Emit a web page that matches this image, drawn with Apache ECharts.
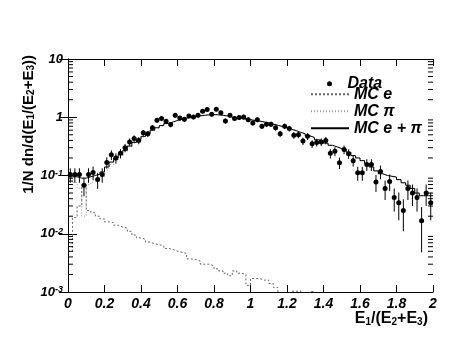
<!DOCTYPE html>
<html>
<head>
<meta charset="utf-8">
<script src="https://cdn.jsdelivr.net/npm/echarts@6/dist/echarts.min.js"></script>
<style>
  html, body { margin: 0; padding: 0; background: #fff; }
  #chart { width: 471px; height: 364px; }
</style>
</head>
<body>
<div id="chart"></div>
<script>
// histogram binning: 80 bins of 0.025 between 0 and 2
const nBins = 80;
const xLow = 0;
const xHigh = 2;

// data points (1/N dn/dx) and their errors, one per bin
const dataVals = [
  0.104, 0.104, 0.104, 0.068, 0.104, 0.113, 0.085, 0.104, 0.168, 0.227,
  0.20, 0.24, 0.30, 0.376, 0.43, 0.40, 0.54, 0.52, 0.66, 0.89,
  0.95, 0.85, 0.75, 1.08, 0.97, 0.92, 1.05, 1.01, 1.08, 1.27,
  1.36, 1.13, 1.37, 1.20, 0.86, 1.08, 0.95, 0.99, 1.01, 0.91,
  0.80, 0.91, 0.70, 0.76, 0.76, 0.66, 0.52, 0.70, 0.64, 0.49,
  0.50, 0.39, 0.47, 0.35, 0.37, 0.376, 0.40, 0.24, 0.26, 0.166,
  0.28, 0.237, 0.18, 0.111, 0.111, 0.155, 0.155, 0.077, 0.117, 0.060,
  0.079, 0.042, 0.034, 0.025, 0.060, 0.050, 0.042, 0.0168, 0.050, 0.034
];
const dataErr = [
  0.029, 0.029, 0.029, 0.024, 0.029, 0.030, 0.026, 0.029, 0.037, 0.043,
  0.040, 0.044, 0.049, 0.055, 0.059, 0.057, 0.066, 0.065, 0.073, 0.085,
  0.088, 0.083, 0.078, 0.094, 0.089, 0.086, 0.092, 0.090, 0.094, 0.100,
  0.105, 0.096, 0.105, 0.099, 0.083, 0.094, 0.088, 0.090, 0.090, 0.086,
  0.080, 0.086, 0.075, 0.078, 0.078, 0.073, 0.065, 0.075, 0.072, 0.063,
  0.064, 0.056, 0.062, 0.053, 0.055, 0.055, 0.057, 0.044, 0.046, 0.037,
  0.048, 0.044, 0.038, 0.030, 0.030, 0.035, 0.035, 0.025, 0.031, 0.022,
  0.025, 0.018, 0.017, 0.014, 0.022, 0.020, 0.018, 0.012, 0.020, 0.017
];

// MC electrons (below 1e-3 means off the frame)
const mcE = [
  0.005, 0.019, 0.030, 0.070, 0.025, 0.023, 0.020, 0.018, 0.016, 0.0155,
  0.014, 0.013, 0.0125, 0.011, 0.0095, 0.0085, 0.0080, 0.0072, 0.0067, 0.0065,
  0.0062, 0.0056, 0.0054, 0.0050, 0.0048, 0.0046, 0.0037, 0.0036, 0.0034, 0.0030,
  0.0030, 0.0028, 0.0025, 0.0023, 0.0021, 0.0019, 0.0023, 0.0021, 0.0020, 0.0013,
  0.0017, 0.0017, 0.0016, 0.0016, 0.0014, 0.0012, 0.0009, 0.0008, 0.0008, 0.00103,
  0.00104, 0.0009, 0.0008, 0.00102, 0.0005, 0.0005, 0.0005, 0.0005, 0.0005, 0.0005,
  0.0005, 0.0005, 0.0005, 0.0005, 0.0005, 0.0005, 0.0005, 0.0005, 0.0005, 0.0005,
  0.0005, 0.0005, 0.0005, 0.0005, 0.0005, 0.0005, 0.0005, 0.0005, 0.0005, 0.0005
];

// MC pions
const mcPi = [
  0.090, 0.076, 0.060, 0.020, 0.070, 0.077, 0.085, 0.097, 0.124, 0.155,
  0.186, 0.217, 0.258, 0.309, 0.36, 0.41, 0.46, 0.52, 0.59, 0.65,
  0.71, 0.77, 0.82, 0.87, 0.91, 0.95, 1.0, 1.03, 1.06, 1.08,
  1.10, 1.11, 1.10, 1.08, 1.05, 1.01, 0.97, 0.95, 0.93, 0.91,
  0.88, 0.86, 0.83, 0.80, 0.76, 0.73, 0.69, 0.66, 0.62, 0.59,
  0.55, 0.52, 0.48, 0.45, 0.41, 0.39, 0.36, 0.33, 0.31, 0.29,
  0.28, 0.25, 0.22, 0.20, 0.18, 0.16, 0.14, 0.12, 0.107, 0.100,
  0.097, 0.094, 0.085, 0.075, 0.068, 0.060, 0.050, 0.045, 0.045, 0.045
];

// MC e + pi
const mcSum = [
  0.095, 0.095, 0.090, 0.090, 0.095, 0.100, 0.105, 0.115, 0.140, 0.170,
  0.200, 0.230, 0.270, 0.320, 0.37, 0.42, 0.47, 0.53, 0.60, 0.66,
  0.72, 0.78, 0.83, 0.88, 0.92, 0.96, 1.0, 1.03, 1.06, 1.08,
  1.10, 1.11, 1.10, 1.08, 1.05, 1.01, 0.97, 0.95, 0.93, 0.91,
  0.88, 0.86, 0.83, 0.80, 0.76, 0.73, 0.69, 0.66, 0.62, 0.59,
  0.55, 0.52, 0.48, 0.45, 0.41, 0.39, 0.36, 0.33, 0.31, 0.29,
  0.28, 0.25, 0.22, 0.20, 0.18, 0.16, 0.14, 0.12, 0.107, 0.100,
  0.097, 0.094, 0.085, 0.075, 0.068, 0.060, 0.050, 0.045, 0.045, 0.045
];

// y axis decade labels: 10^exp
const yTickExp = [-3, -2, -1, 0, 1];
const yTickBase = ['10', '10', '10', '1', '10'];
const yTickSup = ['-3', '-2', '-1', '', ''];
const minorMant = [2, 3, 4, 5, 6, 7, 8, 9];

const FONT = 'Liberation Sans, Arial, sans-serif';
const binW = (xHigh - xLow) / nBins;
const centers = dataVals.map((v, i) => xLow + (i + 0.5) * binW);

// histogram outline: left edges + closing point at xHigh, drawn with step 'end'
function stepPoints(vals) {
  const pts = vals.map((v, i) => [xLow + i * binW, v]);
  pts.push([xHigh, vals[vals.length - 1]]);
  return pts;
}

const minorVals = [];
yTickExp.slice(0, -1).forEach(e => minorMant.forEach(m => minorVals.push([0, m * Math.pow(10, e)])));

const chart = echarts.init(document.getElementById('chart'), null, { renderer: 'canvas' });

const labelRich = {
  b: { fontFamily: FONT, fontSize: 13, fontWeight: 'bold', fontStyle: 'italic', color: '#000',
       lineHeight: 13, padding: [3, 0, 0, 0], verticalAlign: 'bottom' },
  s: { fontFamily: FONT, fontSize: 9, fontWeight: 'bold', fontStyle: 'italic', color: '#000',
       lineHeight: 9, verticalAlign: 'top' }
};

function titleRich(size) {
  return {
    t: { fontFamily: FONT, fontSize: size, fontWeight: 'bold', color: '#000', lineHeight: size, verticalAlign: 'top' },
    u: { fontFamily: FONT, fontSize: 10, fontWeight: 'bold', color: '#000', lineHeight: 10,
         padding: [size - 5, 0, 0, 0], verticalAlign: 'bottom' }
  };
}

const legendText = { fontFamily: FONT, fontSize: 16, lineHeight: 14, fontWeight: 'bold', fontStyle: 'italic', color: '#000' };

const option = {
  animation: false,
  backgroundColor: '#fff',
  grid: { left: 68, right: 38, top: 59, bottom: 72 },
  xAxis: [{
    type: 'value', min: xLow, max: xHigh, interval: 0.2,
    axisLine: { lineStyle: { color: '#000', width: 1 } },
    axisTick: { inside: true, length: 7, lineStyle: { color: '#000' } },
    splitLine: { show: false },
    axisLabel: { margin: 5, color: '#000', fontFamily: FONT, fontSize: 14, fontWeight: 'bold', fontStyle: 'italic' }
  }, {
    type: 'value', position: 'top', min: xLow, max: xHigh, interval: 0.2,
    axisLine: { show: true, onZero: false, lineStyle: { color: '#000', width: 1 } },
    axisTick: { show: true, inside: true, length: 7, lineStyle: { color: '#000' } },
    splitLine: { show: false }, axisLabel: { show: false }
  }],
  yAxis: [{
    type: 'log', logBase: 10, min: 0.001, max: 10,
    axisLine: { show: true, lineStyle: { color: '#000', width: 1 } },
    axisTick: { inside: true, length: 9, lineStyle: { color: '#000' } },
    splitLine: { show: false },
    axisLabel: {
      margin: 5,
      formatter: v => {
        const k = yTickExp.indexOf(Math.round(Math.log10(v)));
        if (k < 0) return '';
        return '{b|' + yTickBase[k] + '}' + (yTickSup[k] ? '{s|' + yTickSup[k] + '}' : '');
      },
      rich: labelRich
    }
  }, {
    type: 'log', logBase: 10, min: 0.001, max: 10, position: 'right',
    axisLine: { show: true, lineStyle: { color: '#000', width: 1 } },
    axisTick: { inside: true, length: 9, lineStyle: { color: '#000' } },
    splitLine: { show: false }, axisLabel: { show: false }
  }],
  legend: [{
    data: [{ name: 'Data', icon: 'circle' }],
    left: 322, top: 70.8, orient: 'vertical',
    itemWidth: 26, itemHeight: 5, itemGap: 0,
    textStyle: legendText
  }, {
    data: ['MC e', 'MC \u03c0', 'MC e + \u03c0'],
    left: 305, top: 81.3, orient: 'vertical',
    itemWidth: 38, itemHeight: 14, itemGap: 1,
    itemStyle: { opacity: 0, borderWidth: 0 },
    textStyle: legendText
  }],
  graphic: [{
    type: 'text', x: 428, y: 319,
    style: {
      text: '{t|E}{u|1}{t|/(E}{u|2}{t|+E}{u|3}{t|)}',
      rich: titleRich(16), align: 'right', verticalAlign: 'middle'
    }
  }, {
    type: 'text', x: 29, y: 55, rotation: Math.PI / 2,
    style: {
      text: '{t|1/N dn/d(E}{u|1}{t|/(E}{u|2}{t|+E}{u|3}{t|))}',
      rich: titleRich(15), align: 'right', verticalAlign: 'middle'
    }
  }],
  series: [{
    name: 'minor ticks', type: 'custom', silent: true, z: 5,
    data: minorVals,
    renderItem: (params, api) => {
      const y = api.coord([0, api.value(1)])[1];
      const cs = params.coordSys;
      const st = { stroke: '#000', lineWidth: 1 };
      return {
        type: 'group', children: [
          { type: 'line', shape: { x1: cs.x, y1: y, x2: cs.x + 5, y2: y }, style: st },
          { type: 'line', shape: { x1: cs.x + cs.width, y1: y, x2: cs.x + cs.width - 5, y2: y }, style: st }
        ]
      };
    }
  }, {
    name: 'MC e', type: 'line', step: 'end', symbol: 'none', clip: true,
    data: stepPoints(mcE),
    lineStyle: { color: '#666', width: 1, type: [2, 2] },
    itemStyle: { color: '#666' }, z: 2
  }, {
    name: 'MC \u03c0', type: 'line', step: 'end', symbol: 'none', clip: true,
    data: stepPoints(mcPi),
    lineStyle: { color: '#999', width: 1, type: [1, 2] },
    itemStyle: { color: '#999' }, z: 2
  }, {
    name: 'MC e + \u03c0', type: 'line', step: 'end', symbol: 'none', clip: true,
    data: stepPoints(mcSum),
    lineStyle: { color: '#000', width: 1 },
    itemStyle: { color: '#000' }, z: 3
  }, {
    name: 'errors', type: 'custom', silent: true, z: 4, clip: true,
    data: centers.map((x, i) => [x, dataVals[i], dataErr[i]]),
    renderItem: (params, api) => {
      const x = api.value(0), y = api.value(1), e = api.value(2);
      const lo = Math.max(y - e, 1e-4);
      const p1 = api.coord([x, lo]);
      const p2 = api.coord([x, y + e]);
      return { type: 'line', shape: { x1: p1[0], y1: p1[1], x2: p2[0], y2: p2[1] },
               style: { stroke: '#000', lineWidth: 1 } };
    }
  }, {
    name: 'Data', type: 'scatter', symbol: 'circle', symbolSize: 5,
    data: centers.map((x, i) => [x, dataVals[i]]),
    itemStyle: { color: '#000', opacity: 1 }, z: 6
  }]
};

chart.setOption(option);
</script>
</body>
</html>
